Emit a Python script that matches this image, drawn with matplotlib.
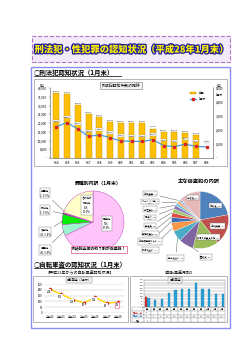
import numpy as np
import matplotlib
matplotlib.use('Agg')
import matplotlib.pyplot as plt
import matplotlib.patches as mpatches
import matplotlib.lines as mlines
import matplotlib.patheffects as pe

plt.rcParams['font.family'] = ['Noto Sans CJK JP', 'DejaVu Sans']

W, H = 250, 353

# 刑法犯認知件数の推移
years = ['H14', 'H15', 'H16', 'H17', 'H18', 'H19', 'H20', 'H21', 'H22',
         'H23', 'H24', 'H25', 'H26', 'H27', 'H28']
annual = [37100, 36600, 30100, 25100, 23200, 20400, 20000, 20000, 20000,
          16800, 14900, 14900, 14300, 13000, np.nan]
january = [2250, 2530, 2070, 1540, 1660, 1450, 1220, 1200, 1180,
           1310, 880, 810, 990, 830, 790]

# 罪種別内訳（1月末）
crime_types = ['窃盗犯', '粗暴犯', '知能犯', '風俗犯', '凶悪犯', 'その他の\n刑法犯']
crime_counts = [536, 46, 43, 5, 2, 158]

# 主な窃盗犯の内訳
theft_types = ['万引き', '自転車盗', '非侵入窃盗その他', '置引き', '車上ねらい',
               '部品ねらい', '自動販売機ねらい', '事務所荒し', '空き巣', '忍込み',
               '出店荒し', 'オートバイ盗', '自動車盗', 'その他']
theft_counts = [118, 93, 78, 45, 33, 27, 16, 14, 13, 11, 9, 8, 7, 64]

# 自転車盗
bike_years = ['平成22', '平成23', '平成24', '平成25', '平成26', '平成27', '平成28']
bike_jan = [204, 163, 115, 88, 134, 84, 93]
months = ['1月', '2月', '3月', '4月', '5月', '6月', '7月', '8月', '9月',
          '10月', '11月', '12月']
bike_h27 = [84, 68, 72, 128, 155, 165, 165, 222, 165, 165, 125, 118]
bike_h28 = [93]


def box(x0, y0, x1, y1):
    # ピクセル座標(左上原点) -> figure座標
    return [x0 / W, 1 - y1 / H, (x1 - x0) / W, (y1 - y0) / H]


fig = plt.figure(figsize=(W / 100, H / 100), dpi=100)


def rect(x0, y0, x1, y1, **kw):
    r = mpatches.Rectangle((x0 / W, 1 - y1 / H), (x1 - x0) / W, (y1 - y0) / H,
                           transform=fig.transFigure, **kw)
    fig.add_artist(r)


def ftext(x, y, s, **kw):
    return fig.text(x / W, 1 - y / H, s, **kw)


def underline(x0, x1, y):
    fig.add_artist(mlines.Line2D([x0 / W, x1 / W], [1 - y / H, 1 - y / H],
                                 transform=fig.transFigure, color='black', lw=0.5))


# タイトル
rect(32, 36, 230, 62, facecolor='#F2EAF8', edgecolor='#B070C8', lw=0.8,
     linestyle='--', zorder=-2)
ftext(131, 49.5, '刑法犯・性犯罪の認知状況（平成28年1月末）', ha='center', va='center',
      fontsize=6.7, weight='black', color='#FFF000',
      path_effects=[pe.withStroke(linewidth=1.8, foreground='#1C1C9C')])

# 外枠
rect(31, 67, 230, 328, facecolor='white', edgecolor='#8C8CFF', lw=1.0, zorder=-2)

ftext(34, 72, '○刑法犯認知状況（1月末）', ha='left', va='center', fontsize=4.6, weight='bold')
underline(34, 121, 75.5)

# 刑法犯認知件数の推移
rect(34, 79, 227, 166, facecolor='white', edgecolor='#A8A8A8', lw=0.6, zorder=-1)
ax = fig.add_axes(box(50, 88, 213, 158))
x = np.arange(len(years))
bars = ax.bar(x, annual, width=0.55, color='#FFC000', edgecolor='#BF9000', lw=0.3)
for xi, v in zip(x, annual):
    if not np.isnan(v):
        ax.text(xi, v + 700, f'{v:,.0f}', ha='center', va='bottom', fontsize=1.7)
ax.set_xlim(-0.6, len(years) - 0.4)
ax.set_ylim(0, 40000)
ax.set_yticks(np.arange(0, 40001, 5000))
ax.set_yticklabels(['-'] + [f'{v:,}' for v in range(5000, 40001, 5000)], fontsize=2.2)
ax.set_xticks(x)
ax.set_xticklabels(years, fontsize=2.2)
ax.tick_params(length=1, width=0.3, pad=1)
ax.spines['top'].set_visible(False)
for s in ['left', 'right', 'bottom']:
    ax.spines[s].set_linewidth(0.4)
    ax.spines[s].set_color('#888888')
ax.text(-0.05, 1.02, '(件)', transform=ax.transAxes, fontsize=2.2, ha='center')

ax2 = ax.twinx()
line, = ax2.plot(x, january, color='#4A9BD6', lw=0.9, marker='s', ms=1.4,
                 mfc='#E02020', mec='#E02020')
ax2.set_ylim(0, 5000)
ax2.set_yticks(np.arange(0, 5001, 1000))
ax2.set_yticklabels(['-'] + [f'{v:,}' for v in range(1000, 5001, 1000)], fontsize=2.2)
ax2.tick_params(length=1, width=0.3, pad=1)
ax2.spines['top'].set_visible(False)
for s in ['left', 'right', 'bottom']:
    ax2.spines[s].set_linewidth(0.4)
    ax2.spines[s].set_color('#888888')
for xi, v in zip(x, january):
    ax2.text(xi, v + 380, f'{v:,}', ha='center', va='center', fontsize=1.6,
             bbox=dict(boxstyle='square,pad=0.25', fc='white', ec='#999999', lw=0.25))
ax2.text(1.04, 1.02, '(件)', transform=ax2.transAxes, fontsize=2.2, ha='center')
ax2.text(1.015, 0.9, '1月末', transform=ax2.transAxes, fontsize=2.0, ha='left', va='center')
ax2.legend([bars, line], ['年間', '1月末'], loc='upper right', bbox_to_anchor=(0.97, 1.0),
           fontsize=2.0, frameon=False, handlelength=2.2, labelspacing=0.8)
ftext(121, 85.5, '刑法犯認知件数の推移', ha='center', va='center', fontsize=2.8,
      bbox=dict(boxstyle='square,pad=0.3', fc='#F4F4F4', ec='#777777', lw=0.4))

# 罪種別内訳
r1, c1, half = 31, (93, 222), 62
axp1 = fig.add_axes(box(c1[0] - half, c1[1] - half, c1[0] + half, c1[1] + half))
wedges1, _ = axp1.pie(crime_counts, startangle=90, counterclock=False,
                      colors=['#FFC4FA', '#9CF5CF', '#00EE00', '#111111', '#FFFFFF', '#FFFFC8'],
                      wedgeprops=dict(edgecolor='#C050C0', lw=0.35))
axp1.set_xlim(-half / r1, half / r1)
axp1.set_ylim(-half / r1, half / r1)
total1 = sum(crime_counts)
pos1 = [(0.45, -0.05), (-1.55, -0.9), (-1.55, -0.32), (-1.55, 0.39), (-1.55, 0.94), (-0.2, 0.55)]
for w, name, n, p in zip(wedges1, crime_types, crime_counts, pos1):
    pct = n / total1 * 100
    ang = np.deg2rad((w.theta1 + w.theta2) / 2)
    if np.hypot(*p) < 1:
        axp1.text(p[0], p[1], f'{name}\n{n},\n{pct:.1f}%', ha='center', va='center',
                  fontsize=1.9, bbox=dict(boxstyle='square,pad=0.3', fc='white', ec='#777777', lw=0.3))
    else:
        axp1.annotate(f'{name},\n{n}, {pct:.1f}%', xy=(np.cos(ang) * 0.9, np.sin(ang) * 0.9),
                      xytext=p, ha='center', va='center', fontsize=1.9,
                      bbox=dict(boxstyle='square,pad=0.3', fc='white', ec='#777777', lw=0.3),
                      arrowprops=dict(arrowstyle='-', lw=0.3, color='#444444'))
ftext(98, 183, '罪種別内訳（1月末）', ha='center', va='center', fontsize=3.5, weight='bold')
ftext(99, 249.5, '刑法犯全体の約７割が窃盗犯！', ha='center', va='center', fontsize=2.8,
      weight='bold', bbox=dict(boxstyle='square,pad=0.3', fc='white', ec='#E0508A', lw=0.5))

# 主な窃盗犯の内訳
r2, c2 = 28.5, (200, 220)
axp2 = fig.add_axes(box(c2[0] - half, c2[1] - half, c2[0] + half, c2[1] + half))
pie2_colors = ['#4F81BD', '#C0504D', '#9BBB59', '#8064A2', '#4BACC6', '#F79646',
               '#3F6FB8', '#D94A45', '#A5C96A', '#8E74B5', '#7DC3DE', '#F8A868',
               '#9DB6E0', '#E6B9B8']
wedges2, _ = axp2.pie(theft_counts, startangle=90, counterclock=False, colors=pie2_colors,
                      wedgeprops=dict(edgecolor='white', lw=0.2))
axp2.set_xlim(-half / r2, half / r2)
axp2.set_ylim(-half / r2, half / r2)
total2 = sum(theft_counts)
left_y = np.linspace(-1.05, 0.92, 8)
pos2 = [(0.55, 0.5), (0.62, -0.22), (0.3, -0.62), (0.2, -1.3), (-0.85, -1.35)] + \
       [(-1.75, yy) for yy in left_y] + [(-0.25, 0.78)]
for w, name, n, p in zip(wedges2, theft_types, theft_counts, pos2):
    pct = n / total2 * 100
    ang = np.deg2rad((w.theta1 + w.theta2) / 2)
    lbl = f'{name}, {n},\n{pct:.1f}%'
    kw = dict(ha='center', va='center', fontsize=1.6,
              bbox=dict(boxstyle='square,pad=0.3', fc='white', ec='#777777', lw=0.3))
    if np.hypot(*p) < 1:
        axp2.text(p[0], p[1], lbl, **kw)
    else:
        axp2.annotate(lbl, xy=(np.cos(ang) * 0.95, np.sin(ang) * 0.95), xytext=p,
                      arrowprops=dict(arrowstyle='-', lw=0.3, color='#444444'), **kw)
ftext(199, 182, '主な窃盗犯の内訳', ha='center', va='center', fontsize=3.8, weight='bold')

# 自転車盗
ftext(34, 264.5, '○自転車盗の認知状況（1月末）', ha='left', va='center', fontsize=4.6, weight='bold')
underline(34, 119, 268)
ftext(80, 272.5, '【平成22年からの自転車盗認知状況】', ha='center', va='center', fontsize=2.9)
ftext(178, 272.5, '【自転車盗月別】', ha='center', va='center', fontsize=2.9)

rect(33, 276, 128, 322, facecolor='white', edgecolor='#A8A8A8', lw=0.6, zorder=-1)
axb = fig.add_axes(box(44, 284, 124, 313))
xb = np.arange(len(bike_years))
axb.plot(xb, bike_jan, color='#FFD200', lw=1.0, marker='D', ms=1.3, mfc='#D02020', mec='#D02020')
axb.set_xlim(-0.5, len(bike_years) - 0.5)
axb.set_ylim(0, 250)
axb.set_yticks(np.arange(0, 251, 50))
axb.set_xticks(xb)
axb.set_xticklabels(bike_years, fontsize=2.0)
axb.tick_params(axis='y', labelsize=2.0, length=0, pad=1)
axb.tick_params(axis='x', length=0, pad=1.5)
axb.grid(axis='y', color='#BBBBBB', lw=0.3)
axb.set_axisbelow(True)
for s in axb.spines.values():
    s.set_visible(False)
for i, v in enumerate(bike_jan):
    last = i == len(bike_jan) - 1
    axb.text(i - 0.1, v - 22, str(v), ha='center', va='center', fontsize=1.8,
             bbox=dict(boxstyle='square,pad=0.3', fc='white', ec='#F070A0' if last else 'none', lw=0.5))
ftext(79, 280, '自転車盗（1月末）', ha='center', va='center', fontsize=2.1,
      bbox=dict(boxstyle='square,pad=0.3', fc='#F4F4F4', ec='#777777', lw=0.3))

rect(130, 276, 227, 322, facecolor='white', edgecolor='#A8A8A8', lw=0.6, zorder=-1)
axm = fig.add_axes(box(144, 280, 225, 307))
xm = np.arange(len(months))
axm.bar(xm[:len(bike_h28)] - 0.17, bike_h28, width=0.32, color='#E0302A', edgecolor='#A01010', lw=0.2)
axm.bar(xm + 0.17, bike_h27, width=0.32, color='#2AA0DA', edgecolor='#1070A0', lw=0.2)
axm.set_xlim(-0.5, len(months) - 0.5)
axm.set_ylim(0, 250)
axm.set_yticks(np.arange(0, 251, 25))
axm.tick_params(axis='y', labelsize=1.5, length=0, pad=0.8)
axm.set_xticks([])
axm.grid(axis='y', color='#888888', lw=0.3)
axm.set_axisbelow(True)
for s in axm.spines.values():
    s.set_linewidth(0.3)
    s.set_color('#888888')
diff = [str(a - b) for a, b in zip(bike_h28, bike_h27)]
row28 = ['■平成28年'] + [str(v) for v in bike_h28] + [''] * (len(months) - len(bike_h28))
row27 = ['■平成27年'] + [str(v) for v in bike_h27]
rowd = ['増減'] + diff + [''] * (len(months) - len(diff))
tbl = axm.table(cellText=[row28, row27, rowd], colLabels=[''] + months,
                colWidths=[12] + [6.75] * len(months),
                bbox=[-12 / 81, -15 / 27, 1 + 12 / 81, 15 / 27], cellLoc='center')
tbl.auto_set_font_size(False)
tbl.set_fontsize(1.4)
for (r, c), cell in tbl.get_celld().items():
    cell.set_linewidth(0.25)
    cell.set_edgecolor('#888888')
    cell.PAD = 0.02
tbl[1, 0].get_text().set_color('#C02020')
tbl[2, 0].get_text().set_color('#1070B0')
ftext(175, 280, '自転車盗', ha='center', va='center', fontsize=2.1,
      bbox=dict(boxstyle='square,pad=0.3', fc='#F4F4F4', ec='#777777', lw=0.3))

fig.savefig('out.png', dpi=100)
